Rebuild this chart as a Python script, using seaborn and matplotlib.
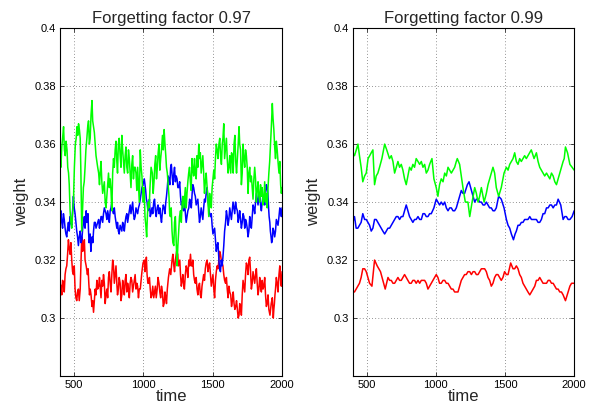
import matplotlib
matplotlib.use("Agg")
import matplotlib.pyplot as plt
import pandas as pd
import seaborn as sns

# (time, weight) samples of each weight trace

# ---- forgetting factor 0.97 ----
green_97 = [(400, .355), (412, .359), (425, .366), (437, .356), (450, .358), (461, .350), (472, .337), (484, .331),
            (496, .340), (510, .360), (522, .366), (533, .367), (545, .362), (556, .330), (568, .345), (580, .352),
            (593, .362), (605, .368), (617, .362), (630, .375), (641, .366), (653, .360), (665, .354), (678, .350),
            (690, .351), (701, .347), (713, .345), (725, .340), (737, .342), (749, .350), (761, .348), (773, .337),
            (785, .355), (797, .358), (809, .354), (820, .360), (833, .356), (845, .363), (857, .354), (869, .356),
            (881, .352), (893, .358), (905, .350), (917, .353), (929, .348), (941, .352), (953, .344), (965, .346),
            (978, .358), (990, .349), (1000, .340), (1012, .335), (1024, .328), (1036, .340), (1048, .345),
            (1065, .350), (1077, .347), (1089, .356), (1101, .352), (1113, .360), (1125, .355), (1138, .363),
            (1150, .365), (1162, .356), (1173, .350), (1185, .342), (1195, .335), (1207, .330), (1220, .325),
            (1231, .335), (1243, .318), (1255, .330), (1268, .337), (1280, .340), (1292, .338), (1303, .345),
            (1315, .343), (1327, .350), (1339, .347), (1351, .355), (1363, .349), (1375, .350), (1387, .356),
            (1400, .360), (1411, .357), (1423, .353), (1435, .350), (1447, .347), (1460, .345), (1472, .335),
            (1484, .340), (1496, .345), (1508, .351), (1520, .355), (1532, .358), (1545, .360), (1557, .356),
            (1569, .360), (1580, .367), (1593, .359), (1605, .355), (1617, .352), (1630, .350), (1642, .356),
            (1654, .360), (1666, .354), (1678, .355), (1690, .366), (1701, .358), (1713, .350), (1725, .355),
            (1737, .358), (1749, .352), (1761, .350), (1773, .347), (1785, .345), (1797, .348), (1809, .348),
            (1821, .344), (1833, .342), (1845, .346), (1857, .345), (1869, .341), (1881, .340), (1893, .338),
            (1905, .350), (1917, .360), (1930, .374), (1941, .365), (1953, .355), (1965, .358), (1978, .350),
            (1990, .346), (2000, .345),
            # short-term spikes between the samples above
            (406, .352), (418, .362), (431, .358), (443, .361), (455, .352), (466, .346), (478, .333), (490, .336),
            (503, .352), (516, .362), (527, .363), (539, .365), (550, .350), (562, .338), (574, .347), (586, .358),
            (599, .366), (611, .360), (623, .370), (635, .368), (647, .364), (659, .356), (671, .352), (684, .346),
            (695, .354), (707, .343), (719, .347), (731, .338), (743, .346), (755, .345), (767, .344), (779, .350),
            (791, .352), (803, .361), (814, .350), (826, .362), (839, .352), (851, .358), (863, .350), (875, .359),
            (887, .350), (899, .355), (911, .345), (923, .356), (935, .352), (947, .350), (959, .352), (971, .340),
            (984, .352), (995, .344), (1006, .345), (1018, .332), (1030, .336), (1042, .338), (1056, .352),
            (1071, .343), (1083, .353), (1095, .348), (1107, .357), (1119, .351), (1131, .358), (1144, .358),
            (1156, .360), (1167, .352), (1179, .346), (1190, .336), (1201, .338), (1213, .326), (1225, .333),
            (1237, .326), (1249, .325), (1261, .335), (1274, .333), (1286, .342), (1297, .341), (1309, .338),
            (1321, .347), (1333, .352), (1345, .344), (1357, .351), (1369, .355), (1381, .348), (1393, .352),
            (1405, .355), (1417, .350), (1429, .356), (1441, .343), (1453, .350), (1466, .340), (1478, .343),
            (1490, .338), (1502, .348), (1514, .348), (1526, .360), (1538, .355), (1551, .362), (1563, .353),
            (1574, .362), (1586, .355), (1599, .362), (1611, .350), (1623, .356), (1636, .357), (1648, .350),
            (1660, .363), (1672, .350), (1684, .360), (1695, .360), (1707, .346), (1719, .360), (1731, .352),
            (1743, .356), (1755, .343), (1767, .352), (1779, .349), (1791, .341), (1803, .352), (1815, .340),
            (1827, .347), (1839, .340), (1851, .342), (1863, .339), (1875, .347), (1887, .343), (1899, .345),
            (1911, .354), (1923, .366), (1935, .369), (1947, .359), (1959, .361), (1971, .354), (1984, .354),
            (1995, .343)]

blue_97 = [(400, .335), (412, .333), (424, .336), (436, .331), (448, .328), (460, .333), (472, .335), (484, .332),
           (496, .342), (508, .336), (520, .330), (532, .325), (545, .330), (557, .327), (570, .333), (580, .331),
           (588, .337), (597, .334), (605, .330), (613, .327), (622, .323), (631, .328), (641, .330), (653, .333),
           (665, .332), (678, .334), (690, .333), (700, .335), (713, .336), (725, .337), (737, .334), (750, .335),
           (761, .337), (773, .340), (785, .336), (797, .335), (809, .331), (820, .330), (833, .332), (845, .330),
           (857, .332), (869, .333), (881, .336), (893, .335), (905, .339), (917, .338), (929, .336), (941, .335),
           (953, .337), (965, .338), (978, .341), (990, .345), (1007, .348), (1017, .344), (1027, .340),
           (1039, .338), (1050, .335), (1062, .338), (1075, .340), (1087, .337), (1100, .338), (1113, .336),
           (1125, .335), (1138, .337), (1150, .338), (1162, .340), (1173, .345), (1185, .348), (1197, .352),
           (1208, .349), (1220, .350), (1231, .347), (1243, .348), (1256, .345), (1268, .342), (1280, .340),
           (1290, .337), (1303, .336), (1315, .335), (1328, .338), (1340, .340), (1352, .343), (1363, .345),
           (1375, .342), (1387, .340), (1399, .337), (1411, .335), (1423, .336), (1435, .338), (1447, .340),
           (1460, .345), (1472, .338), (1484, .335), (1496, .332), (1508, .330), (1520, .327), (1532, .325),
           (1545, .320), (1556, .316), (1568, .318), (1580, .325), (1593, .333), (1605, .335), (1617, .334),
           (1629, .336), (1641, .337), (1653, .338), (1665, .340), (1678, .337), (1690, .335), (1701, .334),
           (1713, .333), (1725, .335), (1737, .334), (1749, .331), (1761, .330), (1773, .332), (1785, .335),
           (1797, .338), (1809, .340), (1821, .341), (1833, .342), (1845, .339), (1857, .340), (1869, .341),
           (1881, .343), (1893, .345), (1903, .338), (1912, .333), (1921, .328), (1930, .327), (1941, .330),
           (1953, .330), (1965, .333), (1978, .335), (1990, .337), (2000, .338),
           # short-term spikes between the samples above
           (406, .337), (418, .331), (430, .334), (442, .329), (454, .331), (466, .330), (478, .333), (490, .337),
           (502, .338), (514, .333), (526, .328), (538, .328), (551, .326), (563, .331), (575, .335), (584, .334),
           (592, .333), (601, .336), (609, .326), (617, .329), (626, .326), (636, .326), (647, .333), (659, .331),
           (671, .333), (684, .331), (695, .335), (707, .333), (719, .338), (731, .336), (743, .337), (755, .333),
           (767, .338), (779, .337), (791, .338), (803, .333), (814, .333), (826, .329), (839, .331), (851, .333),
           (863, .330), (875, .335), (887, .333), (899, .337), (911, .336), (923, .340), (935, .334), (947, .338),
           (959, .336), (971, .339), (984, .343), (998, .346), (1012, .346), (1022, .341), (1033, .337),
           (1044, .341), (1056, .336), (1068, .336), (1081, .341), (1093, .335), (1106, .339), (1119, .338),
           (1131, .333), (1144, .339), (1156, .336), (1167, .342), (1179, .349), (1191, .346), (1202, .353),
           (1214, .346), (1225, .352), (1237, .349), (1249, .345), (1262, .347), (1274, .339), (1285, .338),
           (1296, .340), (1309, .333), (1321, .337), (1334, .341), (1346, .338), (1357, .346), (1369, .343),
           (1381, .339), (1393, .341), (1405, .333), (1417, .338), (1429, .334), (1441, .341), (1453, .343),
           (1466, .341), (1478, .336), (1490, .336), (1502, .329), (1514, .331), (1526, .323), (1538, .326),
           (1550, .317), (1562, .320), (1574, .321), (1586, .330), (1599, .337), (1611, .332), (1623, .338),
           (1635, .334), (1647, .340), (1659, .336), (1671, .338), (1684, .333), (1695, .337), (1707, .331),
           (1719, .336), (1731, .331), (1743, .333), (1755, .328), (1767, .335), (1779, .331), (1791, .339),
           (1803, .336), (1815, .343), (1827, .339), (1839, .343), (1851, .337), (1863, .342), (1875, .339),
           (1887, .346), (1898, .343), (1907, .335), (1916, .330), (1925, .326), (1935, .331), (1947, .328),
           (1959, .334), (1971, .332), (1984, .338), (1995, .335)]

red_97 = [(400, .312), (412, .308), (424, .312), (436, .315), (448, .318), (460, .327), (472, .322), (484, .320),
          (496, .315), (508, .310), (520, .306), (532, .310), (545, .310), (556, .328), (570, .325), (580, .320),
          (597, .315), (607, .312), (617, .310), (630, .304), (641, .302), (653, .310), (665, .313), (678, .311),
          (690, .310), (701, .313), (713, .315), (725, .305), (737, .310), (749, .314), (761, .312), (773, .315),
          (785, .318), (797, .315), (809, .312), (820, .310), (833, .312), (845, .308), (857, .311), (869, .313),
          (881, .309), (893, .310), (905, .312), (917, .313), (929, .311), (941, .315), (953, .312), (965, .307),
          (978, .310), (990, .316), (1007, .320), (1017, .318), (1027, .315), (1039, .312), (1050, .310),
          (1062, .308), (1075, .307), (1087, .311), (1100, .310), (1113, .312), (1125, .307), (1138, .309),
          (1150, .305), (1162, .307), (1173, .310), (1190, .317), (1207, .320), (1220, .318), (1231, .320),
          (1248, .322), (1258, .319), (1268, .315), (1280, .313), (1290, .312), (1303, .315), (1315, .317),
          (1328, .320), (1340, .322), (1352, .318), (1363, .315), (1375, .312), (1387, .310), (1399, .311),
          (1411, .308), (1423, .311), (1435, .315), (1447, .317), (1460, .320), (1472, .318), (1484, .315),
          (1496, .313), (1508, .310), (1520, .313), (1532, .318), (1545, .320), (1556, .322), (1568, .319),
          (1580, .315), (1593, .312), (1605, .310), (1617, .311), (1630, .308), (1642, .306), (1654, .305),
          (1666, .304), (1678, .303), (1690, .301), (1701, .304), (1713, .308), (1725, .311), (1737, .315),
          (1749, .318), (1761, .320), (1773, .316), (1785, .312), (1797, .314), (1809, .315), (1821, .312),
          (1833, .310), (1845, .311), (1857, .313), (1869, .311), (1881, .308), (1893, .305), (1905, .303),
          (1922, .305), (1937, .300), (1945, .305), (1953, .310), (1965, .312), (1978, .315), (1990, .313),
          (2000, .316),
          # short-term spikes between the samples above
          (406, .311), (418, .313), (430, .309), (442, .317), (454, .322), (466, .324), (478, .326), (490, .316),
          (502, .318), (514, .307), (526, .309), (538, .306), (550, .318), (563, .323), (575, .327), (588, .318),
          (602, .317), (612, .308), (623, .308), (635, .306), (647, .306), (659, .308), (671, .310), (684, .314),
          (695, .307), (707, .311), (719, .312), (731, .308), (743, .307), (755, .316), (767, .309), (779, .320),
          (791, .312), (803, .318), (814, .308), (826, .314), (839, .306), (851, .313), (863, .308), (875, .315),
          (887, .312), (899, .307), (911, .314), (923, .309), (935, .313), (947, .310), (959, .311), (971, .310),
          (984, .313), (998, .319), (1012, .316), (1022, .321), (1033, .312), (1044, .314), (1056, .307),
          (1068, .311), (1081, .309), (1093, .307), (1106, .314), (1119, .309), (1131, .311), (1144, .304),
          (1156, .309), (1167, .305), (1181, .314), (1198, .315), (1213, .322), (1225, .316), (1240, .323),
          (1253, .318), (1263, .320), (1274, .311), (1285, .315), (1296, .310), (1309, .318), (1321, .314),
          (1334, .318), (1346, .318), (1357, .320), (1369, .313), (1381, .314), (1393, .308), (1405, .312),
          (1417, .307), (1429, .313), (1441, .313), (1453, .319), (1466, .316), (1478, .319), (1490, .311),
          (1502, .315), (1514, .307), (1526, .316), (1538, .317), (1550, .323), (1562, .320), (1574, .318),
          (1586, .313), (1599, .314), (1611, .307), (1623, .309), (1636, .304), (1648, .309), (1660, .303),
          (1672, .306), (1684, .300), (1695, .305), (1707, .301), (1719, .313), (1731, .309), (1743, .319),
          (1755, .315), (1767, .321), (1779, .310), (1791, .316), (1803, .312), (1815, .317), (1827, .308),
          (1839, .314), (1851, .309), (1863, .310), (1875, .314), (1887, .304), (1899, .308), (1913, .301),
          (1930, .307), (1941, .303), (1949, .308), (1959, .314), (1971, .309), (1984, .318), (1995, .311)]

# ---- forgetting factor 0.99 ----
green_99 = [(400, .357), (412, .356), (425, .358), (437, .360), (448, .356), (460, .352), (472, .347), (485, .349),
            (497, .350), (510, .355), (522, .356), (533, .357), (545, .358), (557, .346), (569, .349), (581, .350),
            (593, .352), (610, .355), (630, .360), (645, .358), (665, .355), (678, .356), (690, .354), (702, .350),
            (714, .352), (726, .354), (738, .352), (750, .353), (762, .351), (774, .348), (786, .346), (798, .349),
            (810, .352), (822, .351), (834, .353), (846, .352), (858, .355), (871, .354), (883, .353), (895, .354),
            (907, .352), (919, .353), (931, .350), (943, .351), (955, .353), (972, .355), (986, .348), (1003, .345),
            (1015, .342), (1027, .346), (1039, .348), (1052, .347), (1064, .350), (1076, .349), (1088, .352),
            (1100, .351), (1112, .350), (1124, .351), (1136, .352), (1148, .354), (1155, .355), (1172, .353),
            (1184, .349), (1196, .345), (1213, .340), (1232, .340), (1245, .335), (1262, .340), (1281, .345),
            (1293, .343), (1305, .340), (1317, .342), (1329, .345), (1349, .340), (1365, .343), (1377, .346),
            (1389, .348), (1401, .350), (1413, .352), (1425, .350), (1437, .345), (1454, .342), (1473, .345),
            (1493, .350), (1510, .352), (1522, .351), (1534, .353), (1546, .354), (1558, .355), (1570, .357),
            (1582, .354), (1594, .353), (1606, .355), (1618, .354), (1630, .355), (1642, .356), (1654, .355),
            (1666, .356), (1678, .357), (1690, .358), (1710, .355), (1727, .357), (1739, .354), (1751, .352),
            (1763, .351), (1775, .350), (1787, .349), (1800, .350), (1812, .349), (1824, .348), (1836, .350),
            (1848, .349), (1860, .347), (1872, .346), (1884, .348), (1896, .350), (1908, .352), (1920, .354),
            (1928, .355), (1937, .359), (1952, .357), (1969, .353), (1985, .352), (2000, .351)]

blue_99 = [(400, .333), (412, .335), (424, .331), (436, .331), (448, .332), (460, .333), (472, .336), (485, .334),
           (497, .334), (509, .333), (521, .332), (533, .330), (545, .331), (557, .334), (569, .334), (581, .333),
           (593, .332), (605, .331), (617, .330), (630, .329), (642, .330), (654, .331), (666, .331), (678, .332),
           (690, .333), (702, .334), (714, .335), (726, .335), (738, .334), (750, .335), (762, .335), (774, .337),
           (786, .339), (798, .337), (810, .335), (822, .334), (834, .333), (846, .334), (858, .334), (871, .335),
           (883, .334), (895, .334), (907, .336), (919, .336), (931, .335), (943, .335), (955, .336), (967, .336),
           (986, .338), (1003, .341), (1015, .340), (1027, .339), (1039, .340), (1052, .339), (1064, .340),
           (1076, .338), (1088, .337), (1100, .338), (1112, .338), (1124, .337), (1136, .337), (1148, .338),
           (1160, .340), (1172, .342), (1184, .344), (1196, .343), (1208, .343), (1228, .346), (1240, .347),
           (1257, .344), (1269, .342), (1281, .340), (1293, .341), (1305, .341), (1317, .340), (1329, .340),
           (1341, .339), (1353, .339), (1365, .340), (1377, .339), (1389, .338), (1401, .338), (1413, .337),
           (1425, .337), (1437, .338), (1454, .342), (1473, .341), (1493, .338), (1510, .334), (1522, .332),
           (1534, .331), (1546, .329), (1561, .327), (1573, .329), (1582, .330), (1594, .332), (1606, .332),
           (1618, .333), (1630, .333), (1642, .334), (1654, .334), (1666, .334), (1679, .335), (1691, .334),
           (1703, .334), (1715, .334), (1727, .334), (1739, .333), (1751, .333), (1763, .334), (1775, .336),
           (1787, .336), (1800, .338), (1812, .338), (1824, .339), (1836, .339), (1848, .338), (1860, .339),
           (1872, .339), (1884, .341), (1903, .339), (1920, .334), (1932, .335), (1944, .335), (1956, .334),
           (1969, .334), (1985, .335), (2000, .337)]

red_99 = [(400, .309), (412, .309), (424, .310), (436, .311), (448, .312), (460, .314), (472, .317), (485, .317),
          (497, .316), (509, .314), (521, .312), (538, .311), (557, .320), (576, .318), (588, .317), (600, .316),
          (617, .313), (634, .310), (654, .314), (666, .313), (678, .313), (690, .312), (702, .312), (714, .313),
          (726, .314), (738, .313), (750, .313), (762, .314), (774, .315), (786, .314), (798, .313), (810, .312),
          (822, .312), (834, .313), (846, .313), (858, .312), (871, .313), (883, .312), (895, .313), (907, .313),
          (919, .313), (931, .312), (943, .310), (955, .311), (967, .312), (979, .313), (991, .314), (1003, .315),
          (1015, .314), (1027, .312), (1039, .312), (1052, .313), (1064, .313), (1076, .312), (1088, .312),
          (1100, .311), (1112, .310), (1124, .310), (1136, .309), (1148, .309), (1160, .309), (1172, .311),
          (1184, .313), (1196, .314), (1208, .315), (1220, .315), (1232, .316), (1245, .316), (1257, .315),
          (1269, .316), (1281, .316), (1293, .315), (1305, .315), (1317, .316), (1329, .317), (1341, .317),
          (1353, .317), (1365, .316), (1377, .314), (1389, .313), (1401, .311), (1413, .312), (1425, .314),
          (1437, .315), (1449, .315), (1461, .314), (1473, .313), (1485, .314), (1497, .316), (1510, .315),
          (1522, .315), (1541, .319), (1558, .317), (1570, .317), (1582, .318), (1594, .317), (1606, .315),
          (1618, .314), (1630, .312), (1642, .311), (1654, .310), (1666, .309), (1679, .308), (1691, .309),
          (1703, .310), (1715, .311), (1727, .313), (1739, .313), (1751, .314), (1763, .313), (1775, .312),
          (1787, .312), (1800, .312), (1812, .313), (1824, .313), (1836, .312), (1848, .312), (1860, .311),
          (1872, .310), (1884, .310), (1896, .309), (1908, .309), (1920, .308), (1937, .306), (1956, .309),
          (1969, .311), (1981, .312), (2000, .312)]

titles = ["Forgetting factor 0.97", "Forgetting factor 0.99"]
x_ticks = [500, 1000, 1500, 2000]
y_ticks = [0.3, 0.32, 0.34, 0.36, 0.38, 0.4]
y_tick_labels = ["0.3", "0.32", "0.34", "0.36", "0.38", "0.4"]


def frame(series):
    parts = []
    for name, pts in series:
        t, w = zip(*sorted(pts))
        parts.append(pd.DataFrame({"time": t, "weight": w, "series": name}))
    return pd.concat(parts, ignore_index=True)


panels = [
    frame([("red", red_97), ("blue", blue_97), ("green", green_97)]),
    frame([("red", red_99), ("blue", blue_99), ("green", green_99)]),
]
palette = {"green": "#00ff00", "blue": "#0000ff", "red": "#ff0000"}

sns.set_theme(style="white")
plt.rcParams["font.family"] = ["Liberation Sans", "DejaVu Sans"]

fig = plt.figure(figsize=(5.95, 4.07), dpi=100)
boxes = [[0.101, 0.076, 0.373, 0.855], [0.593, 0.076, 0.372, 0.855]]

for box, df, title in zip(boxes, panels, titles):
    ax = fig.add_axes(box)
    sns.lineplot(data=df, x="time", y="weight", hue="series", palette=palette,
                 hue_order=["red", "blue", "green"], estimator=None, sort=False,
                 linewidth=1.1, legend=False, ax=ax)
    ax.set_xlim(400, 2000)
    ax.set_ylim(0.28, 0.4)
    ax.set_xticks(x_ticks)
    ax.set_xticklabels([str(v) for v in x_ticks], fontsize=8)
    ax.set_yticks(y_ticks)
    ax.set_yticklabels(y_tick_labels, fontsize=8)
    ax.grid(True, color="black", linestyle=(0, (1, 3.5)), linewidth=0.5, alpha=0.8)
    ax.tick_params(direction="in", length=3, width=0.5, top=True, right=True,
                   bottom=True, left=True, pad=3, colors="black")
    for s in ax.spines.values():
        s.set_color("black")
        s.set_linewidth(0.8)
    ax.set_title(title, fontsize=12, pad=4)
    ax.set_xlabel("time", fontsize=12, labelpad=-1)
    ax.set_ylabel("weight", fontsize=12, labelpad=4)

fig.savefig("out.png", dpi=100)
